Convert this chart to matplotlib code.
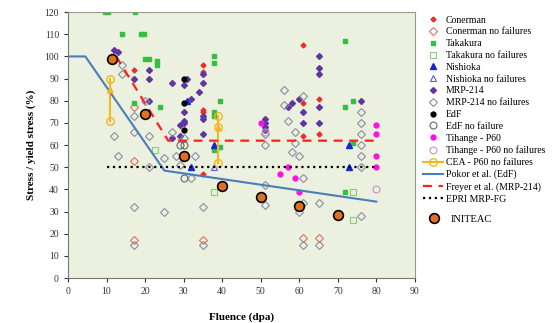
import matplotlib
matplotlib.use('Agg')
import matplotlib.pyplot as plt

# data (fluence in dpa, stress / yield stress in %)
conerman_x = [17, 35, 35, 35, 35, 35, 61, 65, 61, 61, 65]
conerman_y = [94, 96, 93, 76, 75, 47, 105, 81, 79, 64, 65]
conerman_nf_x = [17, 17, 17, 35, 61, 65]
conerman_nf_y = [77, 53, 17, 17, 18, 18]

takakura_x = [9.7, 10.5, 17.5, 14, 19, 19.7, 20, 21, 23, 23, 17, 24,
              38, 38, 39.5, 38, 38, 39.5, 38, 72, 74, 72, 74, 72]
takakura_y = [120, 120, 120, 110, 110, 110, 99, 99, 98, 96, 79, 77,
              100, 97, 80, 75, 73, 59, 58, 107, 80, 77, 61, 39]
takakura_nf_x = [22.5, 38, 74, 74]
takakura_nf_y = [58, 39, 39, 26]

nishioka_x = [31, 32, 38, 73, 73]
nishioka_y = [80, 50, 60, 60, 50]
nishioka_nf_x = [38]
nishioka_nf_y = [50]

mrp_x = [12, 13, 17, 21, 21, 21, 27, 31, 30, 32, 34, 35, 35, 35, 35, 35,
         30, 30, 30, 29, 29, 27, 51, 51, 51, 51, 58, 57, 60, 61, 61,
         65, 65, 65, 65, 65, 76]
mrp_y = [103, 102, 90, 94, 90, 80, 88, 90, 87, 81, 84, 92, 88, 73, 72, 65,
         75, 71, 70, 69, 64, 63, 72, 70, 68, 67, 79, 77, 81, 75, 70,
         100, 95, 92, 77, 70, 80]
mrp_nf_x = [14, 14, 12, 13, 17, 17, 20, 21, 25, 27, 28, 29, 21, 33, 32, 17,
            25, 35, 17, 35, 51, 51, 51, 51, 56, 56, 57, 59, 59, 58, 60, 61,
            61, 61, 65, 60, 61, 65, 76, 76, 76, 76, 76, 76, 76, 30]
mrp_nf_y = [96, 92, 64, 55, 73, 66, 80, 64, 54, 66, 55, 51, 50, 55, 45, 32,
            30, 32, 15, 15, 65, 60, 42, 33, 85, 78, 71, 66, 61, 57, 55, 82,
            45, 34, 34, 30, 15, 15, 75, 70, 65, 60, 55, 50, 28, 63]

edf_x = [30, 30, 30]
edf_y = [90, 79, 67]
edf_nf_x = [29, 30, 30]
edf_nf_y = [60, 60, 45]

tihange_x = [50, 57, 55, 59, 60, 80, 80, 80, 80]
tihange_y = [70, 50, 47, 45, 39, 69, 65, 55, 50]
tihange_nf_x = [51, 80]
tihange_nf_y = [66, 40]

cea_left_x = [11, 11]
cea_left_y = [71, 90]
cea_right_x = [39, 39, 39]
cea_right_y = [52, 68, 73]

pokor_x = [0, 4.5, 25, 80]
pokor_y = [100, 100, 48.5, 34.5]
freyer_x = [12.5, 26, 80]
freyer_y = [100, 62, 62]
epri_x = [10, 80]
epri_y = [50, 50]

initeac_x = [11.5, 20, 30, 40, 50, 60, 70]
initeac_y = [99, 74, 55, 41.5, 36.5, 32.5, 28.5]

plt.rcParams['font.family'] = ['Liberation Serif', 'DejaVu Serif']

fig = plt.figure(figsize=(5.55, 3.23), dpi=100)
ax = fig.add_axes([0.1225, 0.139, 0.625, 0.8235])
ax.set_facecolor('#EBF0DF')

ax.plot(conerman_x, conerman_y, 'D', color='#E8302A', ms=2.5, ls='none', label='Conerman')
ax.plot(conerman_nf_x, conerman_nf_y, 'D', mfc='none', mec='#E07060', ms=3.8, mew=0.8,
        ls='none', label='Conerman no failures')
ax.plot(takakura_x, takakura_y, 's', color='#33C040', ms=3.5, ls='none', label='Takakura')
ax.plot(takakura_nf_x, takakura_nf_y, 's', mfc='none', mec='#88CC77', ms=5, mew=0.8,
        ls='none', label='Takakura no failures')
ax.plot(nishioka_x, nishioka_y, '^', color='#1528D0', ms=3.8, ls='none', label='Nishioka')
ax.plot(nishioka_nf_x, nishioka_nf_y, '^', mfc='none', mec='#5060E0', ms=4.5, mew=0.8,
        ls='none', label='Nishioka no failures')
ax.plot(mrp_x, mrp_y, 'D', color='#6035A0', ms=3, ls='none', label='MRP-214')
ax.plot(mrp_nf_x, mrp_nf_y, 'D', mfc='none', mec='#8C8CA0', ms=3.8, mew=0.8,
        ls='none', label='MRP-214 no failures')
ax.plot(edf_x, edf_y, 'o', color='black', ms=3.5, ls='none', label='EdF')
ax.plot(edf_nf_x, edf_nf_y, 'o', mfc='none', mec='#666666', ms=5, mew=0.8,
        ls='none', label='EdF no failure')
ax.plot(tihange_x, tihange_y, 'o', color='#FF10E0', ms=3.5, ls='none', label='Tihange - P60')
ax.plot(tihange_nf_x, tihange_nf_y, 'o', mfc='none', mec='#C890C0', ms=5, mew=0.8,
        ls='none', label='Tihange - P60 no failures')

cea_color = '#F5B820'
ax.plot(cea_left_x, cea_left_y, '-o', color=cea_color, mfc='none', ms=5.5, mew=1, lw=1.5,
        label='CEA - P60 no failures')
ax.plot(cea_right_x, cea_right_y, '-o', color=cea_color, mfc='none', ms=5.5, mew=1, lw=1.5)
ax.annotate('', xy=(cea_left_x[1], cea_left_y[1] - 2), xytext=(cea_left_x[1], cea_left_y[1] - 6),
            arrowprops=dict(arrowstyle='-|>', color=cea_color, lw=1))
ax.annotate('', xy=(cea_right_x[2], cea_right_y[2] - 2), xytext=(cea_right_x[2], cea_right_y[2] - 5),
            arrowprops=dict(arrowstyle='-|>', color=cea_color, lw=1))

ax.plot(pokor_x, pokor_y, '-', color='#4A7EBB', lw=1.5, label='Pokor et al. (EdF)')
ax.plot(freyer_x, freyer_y, '--', color='#FF2020', lw=1.6, dashes=(4, 3),
        label='Freyer et al. (MRP-214)')
ax.plot(epri_x, epri_y, ':', color='black', lw=1.6, label='EPRI MRP-FG')
ax.plot(initeac_x, initeac_y, 'o', mfc='#E07020', mec='black', mew=1.2, ms=7, ls='none',
        label='INITEAC')

ax.set_xlim(0, 90)
ax.set_ylim(0, 120)
ax.set_xticks(range(0, 91, 10))
ax.set_yticks(range(0, 121, 10))
ax.tick_params(labelsize=7, length=3, width=0.8, colors='#333333')
for side in ['top', 'right']:
    ax.spines[side].set_color('#999999')
for side in ['left', 'bottom']:
    ax.spines[side].set_color('#777777')

ax.set_xlabel('Fluence (dpa)', fontsize=8, fontweight='bold', labelpad=12)
ax.set_ylabel('Stress / yield stress (%)', fontsize=8, fontweight='bold', labelpad=6)

handles, labels = ax.get_legend_handles_labels()
fig.legend(handles[:-1], labels[:-1], loc='upper left', bbox_to_anchor=(0.763, 0.952),
           frameon=False, fontsize=7, handlelength=2.0, handletextpad=0.3,
           labelspacing=0.29, borderaxespad=0, borderpad=0)
fig.legend(handles[-1:], labels[-1:], loc='upper left', bbox_to_anchor=(0.763, 0.336),
           frameon=False, fontsize=7.5, handlelength=2.0, handletextpad=0.6,
           borderaxespad=0, borderpad=0)

fig.savefig('out.png', dpi=100)
